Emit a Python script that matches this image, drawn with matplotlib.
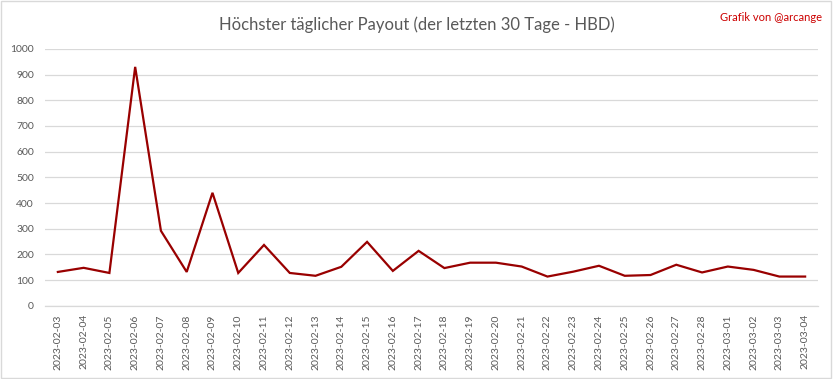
import matplotlib
matplotlib.use('Agg')
import matplotlib.pyplot as plt
from matplotlib.patches import Rectangle

# data
dates = ['2023-02-03', '2023-02-04', '2023-02-05', '2023-02-06', '2023-02-07',
         '2023-02-08', '2023-02-09', '2023-02-10', '2023-02-11', '2023-02-12',
         '2023-02-13', '2023-02-14', '2023-02-15', '2023-02-16', '2023-02-17',
         '2023-02-18', '2023-02-19', '2023-02-20', '2023-02-21', '2023-02-22',
         '2023-02-23', '2023-02-24', '2023-02-25', '2023-02-26', '2023-02-27',
         '2023-02-28', '2023-03-01', '2023-03-02', '2023-03-03', '2023-03-04']
payout = [132, 148, 128, 930, 292, 132, 440, 128, 237, 128,
          117, 152, 249, 136, 214, 147, 168, 168, 153, 114,
          133, 156, 117, 120, 160, 130, 153, 140, 114, 114]
y_ticks = list(range(0, 1001, 100))

plt.rcParams['font.family'] = ['Lato', 'DejaVu Sans']

fig = plt.figure(figsize=(8.33, 3.79), dpi=100)
fig.patches.append(Rectangle((0.001, 0.002), 0.997, 0.995, transform=fig.transFigure,
                             fill=False, edgecolor='#d9d9d9', linewidth=1))

ax = fig.add_axes([0.054, 0.193, 0.928, 0.678])
x = range(len(dates))
ax.plot(x, payout, color='#990000', linewidth=1.6, solid_joinstyle='miter')

ax.set_xlim(-0.5, len(dates) - 0.5)
ax.set_ylim(0, 1000)
ax.set_yticks(y_ticks)
ax.set_yticklabels([str(v) for v in y_ticks])
ax.set_xticks(list(x))
ax.set_xticklabels(dates, rotation=90)
ax.tick_params(axis='both', length=0, labelsize=7.5, colors='#595959')
ax.tick_params(axis='y', pad=8)
ax.tick_params(axis='x', pad=6)

ax.grid(axis='y', color='#d9d9d9', linewidth=0.9)
ax.set_axisbelow(True)
for side in ['top', 'right', 'left']:
    ax.spines[side].set_visible(False)
ax.spines['bottom'].set_color('#d9d9d9')
ax.spines['bottom'].set_linewidth(0.9)

fig.text(0.5, 0.935, 'Höchster täglicher Payout (der letzten 30 Tage - HBD)',
         ha='center', va='center', fontsize=12, color='#595959')
fig.text(0.987, 0.955, 'Grafik von @arcange', ha='right', va='center',
         fontsize=8, color='#cc0000')

fig.savefig('out.png', dpi=100)
